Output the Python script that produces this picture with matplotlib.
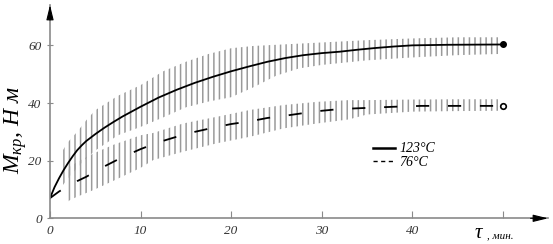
import matplotlib
matplotlib.use("Agg")
import matplotlib.pyplot as plt
from matplotlib.lines import Line2D

plt.rcParams['font.family'] = ['Liberation Serif', 'DejaVu Serif']
plt.rcParams['font.style'] = 'italic'
plt.rcParams['mathtext.fontset'] = 'custom'
plt.rcParams['mathtext.it'] = 'Liberation Serif:italic'
plt.rcParams['mathtext.rm'] = 'Liberation Serif:italic'
plt.rcParams['hatch.linewidth'] = 1.1
plt.rcParams['lines.scale_dashes'] = False

# 123 C mean curve
t_hot = [0, 0.5, 1, 1.5, 2, 2.5, 3, 3.5, 4, 4.5, 5, 6, 7, 8, 10, 12, 14, 16, 18,
         20, 22, 24, 26, 28, 30, 32, 34, 36, 38, 40, 44, 50]
m_hot = [7.0, 10.8, 13.9, 16.7, 19.2, 21.5, 23.6, 25.3, 26.8, 28.0, 29.2, 31.4,
         33.4, 35.3, 38.7, 41.9, 44.6, 47.0, 49.1, 51.0, 52.7, 54.3, 55.6, 56.6,
         57.3, 57.8, 58.5, 59.1, 59.6, 60.0, 60.2, 60.3]
# 123 C spread (vertical hatching)
tb_hot = [1.3, 2, 3, 4, 5, 7.5, 10, 12.5, 15, 17.5, 20, 22.5, 25, 27.5, 30, 35,
          40, 45, 49.5]
hi_hot = [23.0, 26.5, 30.0, 34.0, 37.5, 42.5, 46.2, 51.0, 54.3, 57.0, 59.0, 59.8,
          60.2, 60.6, 61.0, 61.8, 62.4, 62.8, 62.8]
lo_hot = [11.0, 13.9, 17.5, 20.8, 23.5, 28.8, 31.7, 35.0, 38.5, 40.5, 42.0, 45.5,
          49.5, 52.0, 53.2, 54.8, 55.8, 56.6, 57.0]

# 76 C mean curve
t_cold = [0, 1, 2, 3, 4, 6, 8, 10, 12, 14, 16, 18, 20, 22, 24, 26, 28, 30, 32,
          35, 38, 41, 45, 50]
m_cold = [7.0, 9.3, 11.2, 12.9, 14.4, 18.0, 21.2, 24.0, 26.4, 28.3, 30.0, 31.4,
          32.7, 33.6, 34.8, 35.6, 36.5, 37.3, 37.9, 38.3, 38.7, 39.0, 39.0, 39.0]
# 76 C spread
tb_cold = [1.66, 2.2, 3, 4.8, 7, 10, 11.4, 14.7, 18.4, 22.1, 25.8, 29.5, 33, 35,
           40, 45, 49.5]
hi_cold = [15.0, 17.9, 19.5, 22.5, 25.5, 28.8, 29.6, 32.9, 35.2, 37.6, 39.3, 40.4,
           41.0, 41.0, 41.2, 41.3, 41.3]
lo_cold = [5.2, 6.3, 7.5, 9.8, 13.0, 17.5, 20.2, 23.1, 26.0, 28.3, 31.2, 32.9,
           34.3, 36.0, 37.0, 37.2, 37.3]

x_ticks = [0, 10, 20, 30, 40, 50]
x_tick_labels = ['0', '10', '20', '30', '40', '']
y_ticks = [0, 20, 40, 60]
labels = ['123°C', '76°C']

W, H = 553, 244
fig = plt.figure(figsize=(W / 100, H / 100), dpi=100)
ax = fig.add_axes([50 / W, 1 - 218.3 / H, 498 / W, 213.3 / H])

band_col = '#9a9a9a'
ax.fill_between(tb_hot, lo_hot, hi_hot, facecolor='none', edgecolor=band_col,
                linewidth=0, hatch='|||')
ax.fill_between(tb_cold, lo_cold, hi_cold, facecolor='none', edgecolor=band_col,
                linewidth=0, hatch='|||')

ax.plot(t_hot, m_hot, color='black', lw=1.3)
ax.plot(t_cold, m_cold, color='black', lw=1.3, dashes=(9.5, 13.5))
ax.plot(t_hot[-1], m_hot[-1], 'o', color='black', ms=4, zorder=5)
ax.plot(t_cold[-1], m_cold[-1], 'o', mfc='white', mec='black', mew=1.2, ms=4,
        zorder=5)

ax.set_xlim(0, 55)
ax.set_ylim(0, 74)
ax.set_xticks(x_ticks)
ax.set_xticklabels(x_tick_labels)
ax.set_yticks(y_ticks)

gray = '#8a8a8a'
for s in ['top', 'right']:
    ax.spines[s].set_visible(False)
for s in ['left', 'bottom']:
    ax.spines[s].set_color(gray)
    ax.spines[s].set_linewidth(1.2)
ax.tick_params(axis='x', direction='in', length=5, width=0.8, color=gray,
               pad=5, labelsize=9.5, labelcolor='#333333')
ax.tick_params(axis='y', direction='inout', length=4, width=0.8, color=gray,
               pad=4, labelsize=9.5, labelcolor='#333333')

# arrow heads on the axes
ax.annotate('', xy=(1.0, 0), xytext=(0.965, 0), xycoords='axes fraction',
            arrowprops=dict(arrowstyle='-|>,head_length=0.9,head_width=0.22',
                            color='black', lw=0.8, shrinkA=0, shrinkB=0),
            annotation_clip=False)
ax.annotate('', xy=(0, 1.0), xytext=(0, 0.93), xycoords='axes fraction',
            arrowprops=dict(arrowstyle='-|>,head_length=0.9,head_width=0.22',
                            color='black', lw=0.8, shrinkA=0, shrinkB=0),
            annotation_clip=False)

handles = [Line2D([], [], color='black', lw=1.8),
           Line2D([], [], color='black', lw=1.0, dashes=(3, 2.5))]
ax.legend(handles, labels, loc='center left', bbox_to_anchor=(0.648, 0.293),
          frameon=False, fontsize=10, handlelength=1.6, handletextpad=0.3,
          labelspacing=0.05, borderpad=0, borderaxespad=0)

fig.text(16 / W, 1 - 130 / H, r'$M_{кр}$, Н м', rotation=90, ha='center',
         va='center', fontsize=17)
fig.text(475 / W, 1 - 238 / H, 'τ', fontsize=15, ha='left', va='baseline')
fig.text(487 / W, 1 - 238 / H, ', мин.', fontsize=8, ha='left', va='baseline')

fig.savefig('out.png', dpi=100)
